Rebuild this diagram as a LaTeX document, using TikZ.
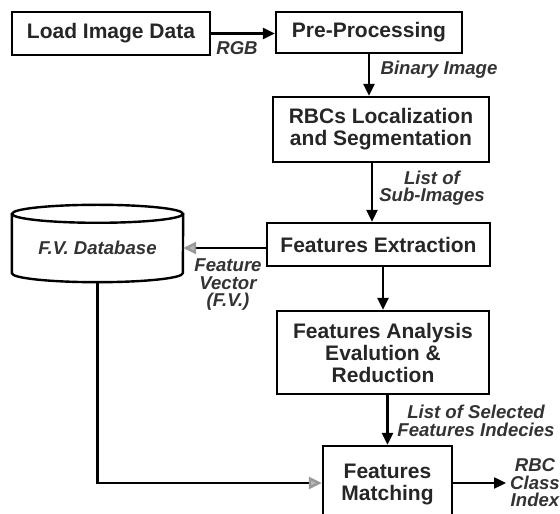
\documentclass[tikz,border=0pt]{standalone}
\usepackage{fontspec}
\setmainfont{Liberation Sans}
\usetikzlibrary{arrows.meta}

\begin{document}
\begin{tikzpicture}[
    x=1pt, y=1pt,
    stage/.style={draw, line width=2.4pt, inner sep=0pt, align=center,
      text=black!85, font=\bfseries\fontsize{21}{22}\selectfont},
    tag/.style={align=center, text=black!80,
      font=\bfseries\itshape\fontsize{18.6}{17.5}\selectfont},
    flow/.style={line width=2.4pt, -{Triangle[length=12pt,width=11pt]}},
    feed/.style={line width=2.4pt,
      -{Triangle[length=13pt,width=12pt,color=gray!80,fill=gray!55]}}
  ]
  \useasboundingbox (0,0) rectangle (560,514);

  % Main chain
  \node[stage, minimum width=198, minimum height=43] (load) at (111,480.5) {Load Image Data};
  \node[stage, minimum width=186, minimum height=41] (pre) at (369,481.5) {Pre-Processing};
  \node[stage, minimum width=216, minimum height=65] (rbc) at (381,384.5)
    {RBCs Localization\\and Segmentation};
  \node[stage, minimum width=223, minimum height=43] (fext) at (378.5,269.5) {Features Extraction};
  \node[stage, minimum width=212, minimum height=83] (fana) at (383,161.5)
    {Features Analysis\\Evalution \&\\Reduction};
  \node[stage, minimum width=129, minimum height=78] (fmat) at (387.5,29)
    {Features\\Matching};
  \coordinate (out) at (506,31);

  % Database cylinder
  \node[tag, minimum width=171, minimum height=68, inner sep=0pt] (db) at (97.5,266) {F.V. Database};
  \draw[line width=2.4pt] (db.north) ellipse [x radius=85.5pt, y radius=9pt];
  \draw[line width=2.4pt] (db.north west) -- ([yshift=9pt]db.south west)
    arc[start angle=180, end angle=360, x radius=85.5pt, y radius=9pt]
    -- (db.north east);

  % Connectors
  \draw[flow] (load.east) -- (load.east -| pre.west);
  \draw[flow] (pre.south) -- (pre.south |- rbc.north);
  \draw[flow] ([xshift=-9pt]rbc.south) -- ([xshift=-9pt]rbc.south |- fext.north);
  \draw[flow] (fext.south -| fana.north) -- (fana.north);
  \draw[flow] (fmat.north |- fana.south) -- (fmat.north);
  \draw[feed] (db.east -| fext.west) -- (db.east);
  \draw[feed] (db.south) |- ([yshift=2pt]fmat.west);
  \draw[flow] ([yshift=2pt]fmat.east) -- (out);

  % Labels
  \node[tag] (rgb) at (237,466) {RGB};
  \node[tag] (bin) at (439,444) {Binary Image};
  \node[tag] (sub) at (432,326) {List of\\Sub-Images};
  \node[tag] (fv) at (228,229) {Feature\\Vector\\(F.V.)};
  \node[tag] (sel) at (476,93) {List of Selected\\Features Indecies};
  \node[tag] (cls) at (535,31) {RBC\\Class\\Index};
\end{tikzpicture}
\end{document}
